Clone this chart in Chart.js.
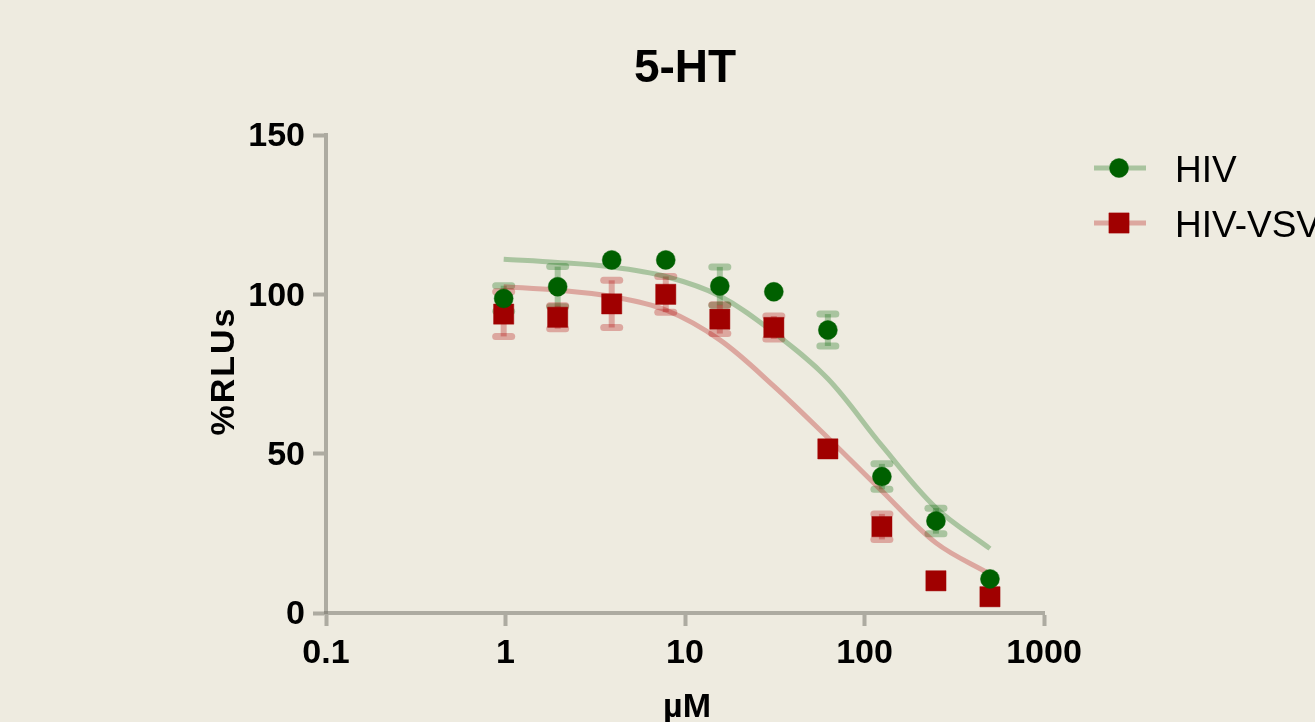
<!DOCTYPE html>
<html>
<head>
<meta charset="utf-8">
<script src="https://cdn.jsdelivr.net/npm/chart.js@4.4.1/dist/chart.umd.min.js"></script>
<style>
  html, body { margin: 0; padding: 0; background: #eeebe0; overflow: hidden; }
  canvas { display: block; }
</style>
</head>
<body>
<canvas id="c" width="1315" height="722"></canvas>
<script>
// ---- data ----
const chartTitle = '5-HT';
const xAxisTitle = 'µM';
const yAxisTitle = '%RLUs';
const seriesNames = ['HIV', 'HIV-VSV'];

const concentrations = [0.977, 1.953, 3.906, 7.813, 15.63, 31.25, 62.5, 125, 250, 500];

const hivMean = [98.7, 102.4, 110.8, 110.8, 102.6, 100.8, 88.8, 42.8, 28.9, 10.7];
const hivErr  = [4.0, 6.3, 1.5, 1.5, 6.0, 1.5, 5.0, 4.0, 4.0, 1.5];
const vsvMean = [93.8, 92.8, 97.0, 100.0, 92.2, 89.6, 51.5, 27.1, 10.1, 5.1];
const vsvErr  = [7.0, 3.6, 7.4, 5.6, 4.5, 3.6, 1.5, 4.0, 1.5, 1.5];

// fitted curves, read at the same concentrations
const hivFit = [111.0, 110.0, 108.6, 105.6, 99.5, 88.0, 73.5, 52.5, 33.0, 20.2];
const vsvFit = [102.4, 101.3, 99.3, 95.1, 85.7, 71.2, 55.0, 38.3, 22.0, 12.2];

const xTickValues = [0.1, 1, 10, 100, 1000];
const xTickLabels = ['0.1', '1', '10', '100', '1000'];
const yTickValues = [0, 50, 100, 150];
const yTickLabels = ['0', '50', '100', '150'];

// ---- styles ----
const BG = '#eeebe0';
const GREEN = '#006000';
const RED = '#a00000';
const GREEN_LIGHT = 'rgba(0,100,0,0.29)';
const RED_LIGHT = 'rgba(175,0,0,0.29)';
const AXIS = 'rgba(120,118,110,0.55)';
const FONT = '"Liberation Sans", Arial, Helvetica, sans-serif';

const pts = (xs, ys) => xs.map((x, i) => ({ x: x, y: ys[i] }));

const bgPlugin = {
  id: 'bg',
  beforeDraw(chart) {
    const ctx = chart.ctx;
    ctx.save();
    ctx.fillStyle = BG;
    ctx.fillRect(0, 0, chart.width, chart.height);
    ctx.restore();
  }
};

const errorBarPlugin = {
  id: 'errorBars',
  beforeDatasetsDraw(chart) {
    const ctx = chart.ctx;
    const xs = chart.scales.x, ys = chart.scales.y;
    chart.data.datasets.forEach((ds) => {
      if (!ds.errors) return;
      const half = ds.pointStyle === 'rect' ? ds.pointRadius * Math.SQRT1_2 : ds.pointRadius;
      ctx.save();
      ctx.strokeStyle = ds.errorColor;
      ds.data.forEach((p, i) => {
        const e = ds.errors[i];
        const px = xs.getPixelForValue(p.x);
        const c = ys.getPixelForValue(p.y);
        const top = ys.getPixelForValue(p.y + e);
        const bot = ys.getPixelForValue(p.y - e);
        if (c - top <= half + 1) return;
        ctx.lineCap = 'butt';
        ctx.lineWidth = 6;
        ctx.beginPath(); ctx.moveTo(px, top); ctx.lineTo(px, bot); ctx.stroke();
        ctx.lineCap = 'round';
        ctx.lineWidth = 7;
        [top, bot].forEach((yy) => {
          ctx.beginPath(); ctx.moveTo(px - 8, yy); ctx.lineTo(px + 8, yy); ctx.stroke();
        });
      });
      ctx.restore();
    });
  }
};

const textPlugin = {
  id: 'texts',
  afterDraw(chart) {
    const ctx = chart.ctx;
    const area = chart.chartArea;
    ctx.save();
    ctx.fillStyle = '#000';
    // title
    ctx.font = 'bold 46px ' + FONT;
    ctx.textAlign = 'center';
    ctx.textBaseline = 'alphabetic';
    ctx.fillText(chartTitle, (area.left + area.right) / 2, 82);
    // x axis title
    ctx.font = 'bold 34px ' + FONT;
    ctx.fillText(xAxisTitle, (area.left + area.right) / 2 + 2, 717);
    // y axis title
    ctx.save();
    ctx.translate(234, (area.top + area.bottom) / 2 - 3);
    ctx.rotate(-Math.PI / 2);
    ctx.font = 'bold 34px ' + FONT;
    try { ctx.letterSpacing = '2px'; } catch (e) {}
    ctx.fillText(yAxisTitle, 0, 0);
    ctx.restore();

    // legend
    const markerSets = chart.data.datasets.filter((d) => d.errors);
    const legendY = [168, 223];
    markerSets.forEach((ds, i) => {
      const y = legendY[i];
      ctx.save();
      ctx.strokeStyle = ds.legendLine;
      ctx.lineWidth = 5;
      ctx.beginPath(); ctx.moveTo(1094, y); ctx.lineTo(1146, y); ctx.stroke();
      ctx.fillStyle = ds.backgroundColor;
      ctx.strokeStyle = ds.borderColor;
      ctx.lineWidth = 1;
      ctx.beginPath();
      if (ds.pointStyle === 'rect') {
        const s = ds.pointRadius * Math.SQRT1_2;
        ctx.rect(1119 - s, y - s, 2 * s, 2 * s);
      } else {
        ctx.arc(1119, y, ds.pointRadius, 0, Math.PI * 2);
      }
      ctx.fill(); ctx.stroke();
      ctx.fillStyle = '#000';
      ctx.font = '37px ' + FONT;
      ctx.textAlign = 'left';
      ctx.textBaseline = 'alphabetic';
      ctx.fillText(ds.label, 1175, y + 14);
      ctx.restore();
    });
    ctx.restore();
  }
};

const ctx = document.getElementById('c').getContext('2d');
new Chart(ctx, {
  type: 'scatter',
  data: {
    datasets: [
      {
        label: seriesNames[0],
        data: pts(concentrations, hivMean),
        errors: hivErr,
        errorColor: GREEN_LIGHT,
        legendLine: GREEN_LIGHT,
        pointStyle: 'circle',
        pointRadius: 9.5,
        backgroundColor: GREEN,
        borderColor: 'rgba(0,96,0,0.45)',
        borderWidth: 1,
        showLine: false,
        clip: false,
        order: 0
      },
      {
        label: seriesNames[1],
        data: pts(concentrations, vsvMean),
        errors: vsvErr,
        errorColor: RED_LIGHT,
        legendLine: RED_LIGHT,
        pointStyle: 'rect',
        pointRadius: 14.3,
        backgroundColor: RED,
        borderColor: 'rgba(160,0,0,0.45)',
        borderWidth: 1,
        showLine: false,
        clip: false,
        order: 0
      },
      {
        label: seriesNames[0] + ' fit',
        data: pts(concentrations, hivFit),
        showLine: true,
        pointRadius: 0,
        borderColor: GREEN_LIGHT,
        borderWidth: 5,
        tension: 0.35,
        fill: false,
        clip: false,
        order: 1
      },
      {
        label: seriesNames[1] + ' fit',
        data: pts(concentrations, vsvFit),
        showLine: true,
        pointRadius: 0,
        borderColor: RED_LIGHT,
        borderWidth: 5,
        tension: 0.35,
        fill: false,
        clip: false,
        order: 1
      }
    ]
  },
  options: {
    responsive: false,
    animation: false,
    events: [],
    devicePixelRatio: 1,
    layout: { padding: { left: 0, right: 271, top: 135, bottom: 0 } },
    plugins: {
      legend: { display: false },
      title: { display: false },
      tooltip: { enabled: false }
    },
    scales: {
      x: {
        type: 'logarithmic',
        min: 0.1,
        max: 1000,
        afterBuildTicks: (scale) => { scale.ticks = xTickValues.map((v) => ({ value: v })); },
        afterFit: (scale) => { scale.height = 109; },
        ticks: {
          autoSkip: false,
          maxRotation: 0,
          padding: 7,
          color: '#000',
          font: { family: FONT, size: 34, weight: 'bold' },
          callback: (v) => xTickLabels[xTickValues.indexOf(v)]
        },
        grid: {
          display: true,
          drawOnChartArea: false,
          drawTicks: true,
          tickLength: 13,
          tickWidth: 4,
          tickColor: AXIS
        },
        border: { display: true, color: AXIS, width: 4 }
      },
      y: {
        type: 'linear',
        min: 0,
        max: 150,
        afterBuildTicks: (scale) => { scale.ticks = yTickValues.map((v) => ({ value: v })); },
        afterFit: (scale) => { scale.width = 326; },
        ticks: {
          padding: 8,
          labelOffset: 2,
          color: '#000',
          font: { family: FONT, size: 34, weight: 'bold' },
          callback: (v) => yTickLabels[yTickValues.indexOf(v)]
        },
        grid: {
          display: true,
          drawOnChartArea: false,
          drawTicks: true,
          tickLength: 13,
          tickWidth: 4,
          tickColor: AXIS
        },
        border: { display: true, color: AXIS, width: 4 }
      }
    }
  },
  plugins: [bgPlugin, errorBarPlugin, textPlugin]
});
</script>
</body>
</html>
